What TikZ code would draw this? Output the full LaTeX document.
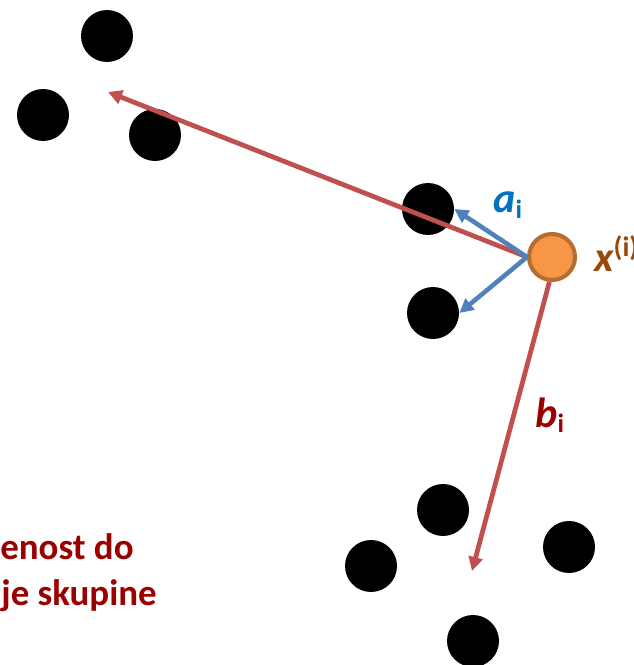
\documentclass[tikz,border=0pt]{standalone}
\usepackage{fontspec}
\setmainfont{Carlito}
\usetikzlibrary{arrows.meta}

\definecolor{arrowred}{HTML}{C0504D}
\definecolor{arrowblue}{HTML}{4F81BD}
\definecolor{labelblue}{HTML}{0070C0}
\definecolor{labelbrown}{HTML}{984807}
\definecolor{labelred}{HTML}{9A0000}
\definecolor{pointfill}{HTML}{F79646}
\definecolor{pointedge}{HTML}{B66D31}

\newcommand{\subi}{{\fontsize{15}{15}\selectfont\upshape\raisebox{-0.2em}{i}}}

\begin{document}
\begin{tikzpicture}[
			x=0.02cm, y=-0.02cm,
			dot/.style={circle, fill=black, minimum size=1.04cm, inner sep=0pt},
			sample/.style={circle, fill=pointfill, draw=pointedge, line width=2.3pt, minimum size=0.92cm, inner sep=0pt},
			redarrow/.style={draw=arrowred, line width=2.7pt, -{Triangle[length=8pt,width=8pt]}},
			bluearrow/.style={draw=arrowblue, line width=2.6pt, -{Triangle[length=8pt,width=8pt]}},
			lbl/.style={font=\bfseries\itshape\fontsize{24}{24}\selectfont, inner sep=0pt, anchor=base west},
			note/.style={font=\bfseries\fontsize{21}{21}\selectfont, text=labelred, inner sep=0pt, anchor=base west}
			]
			\useasboundingbox (0,0) rectangle (633,665);
			\clip (0,0) rectangle (633,665);
			
			% Nearest cluster (own)
			\node[dot] (own1) at (428,209) {};
			\node[dot] (own2) at (433,313) {};
			
			% Far cluster top left
			\node[dot] (far1) at (107,36) {};
			\node[dot] (far2) at (43,115) {};
			\node[dot] (far3) at (155,135) {};
			
			% Cluster below
			\node[dot] (low1) at (443,510) {};
			\node[dot] (low2) at (371,566) {};
			\node[dot] (low3) at (569,547) {};
			\node[dot] (low4) at (473,641) {};
			
			% The sample point
			\node[sample] (xi) at (552,257) {};
			
			% Distances
			\coordinate (fartip) at (108,92);
			\coordinate (lowtip) at (472,571);
			\draw[redarrow] (xi.west) -- (fartip);
			\draw[redarrow] (xi.-96) -- (lowtip);
			\draw[bluearrow] (xi.west) -- (own1.east);
			\draw[bluearrow] (xi.west) -- (own2.east);
			
			% Labels
			\node[lbl, text=labelblue] (alab) at (493,213) {a\subi};
			\node[lbl, text=labelbrown] (xlab) at (594,272) {x{\fontsize{16}{16}\selectfont\upshape\raisebox{0.55em}{(i)}}};
			\node[lbl, text=labelred] (blab) at (535,427) {b\subi};
			\node[note] (note1) at (0,559) {enost do};
			\node[note] (note2) at (1,605) {je skupine};
		\end{tikzpicture}
\end{document}
